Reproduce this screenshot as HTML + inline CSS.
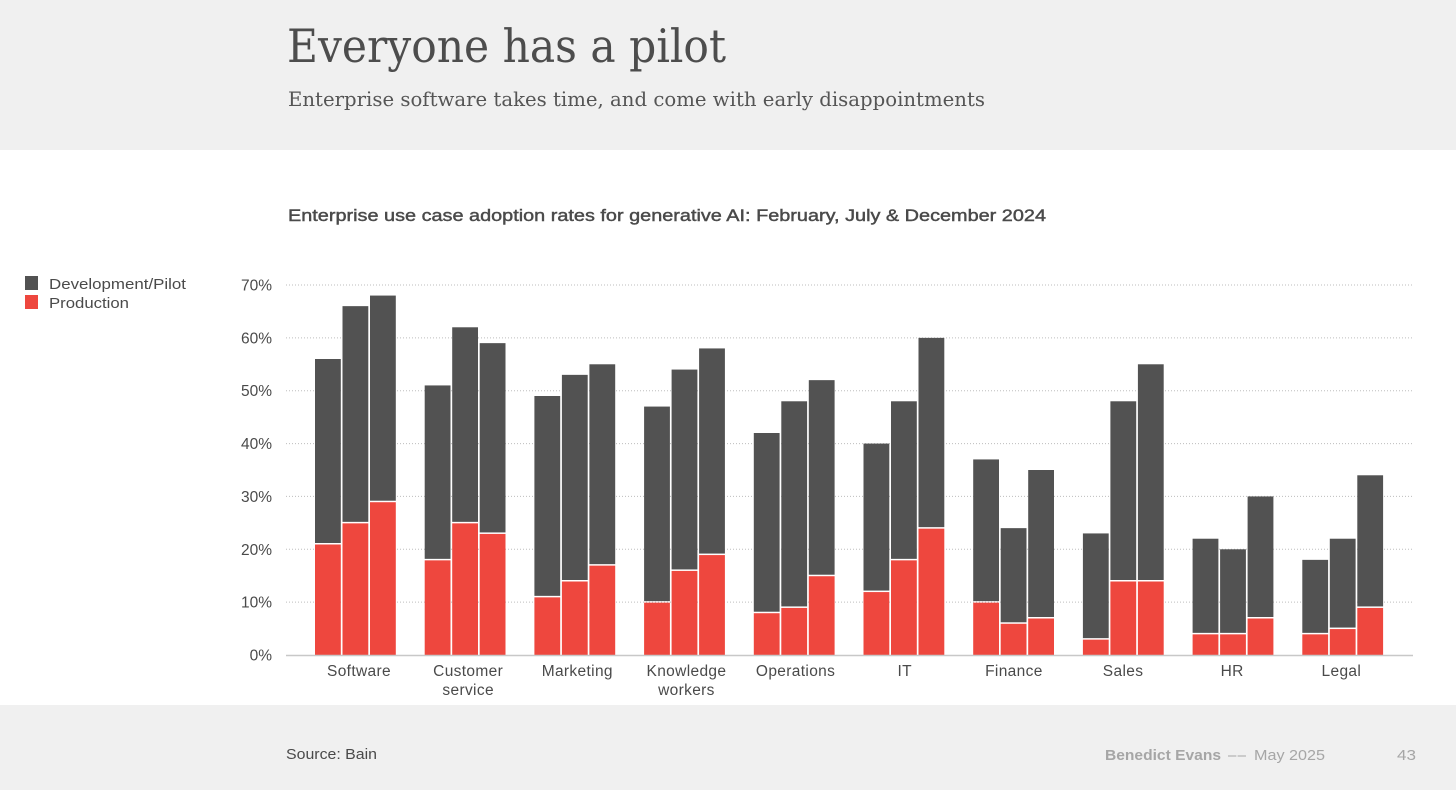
<!DOCTYPE html>
<html lang="en">
<head>
<meta charset="utf-8">
<title>Everyone has a pilot</title>
<style>
html,body{margin:0;padding:0;background:#fff;width:1456px;height:790px;overflow:hidden}
svg{display:block}
text{font-family:"Liberation Sans",Arial,sans-serif;fill:#4a4a4a}
.serif{font-family:"DejaVu Serif","Liberation Serif",serif}
</style>
</head>
<body>
<svg id="slide" width="1456" height="790" viewBox="0 0 1456 790" xmlns="http://www.w3.org/2000/svg">
  <rect x="0" y="0" width="1456" height="150" fill="#f0f0f0"/>
  <rect x="0" y="705" width="1456" height="85" fill="#f0f0f0"/>
  <text class="serif" x="287" y="62" font-size="46" textLength="439" lengthAdjust="spacingAndGlyphs" style="fill:#4d4d4d">Everyone has a pilot</text>
  <text class="serif" x="288" y="106" font-size="20" textLength="697" lengthAdjust="spacingAndGlyphs" style="fill:#555">Enterprise software takes time, and come with early disappointments</text>
  <text x="288" y="221" font-size="17" textLength="758" lengthAdjust="spacingAndGlyphs" style="fill:#4a4a4a;stroke:#4a4a4a;stroke-width:0.45px">Enterprise use case adoption rates for generative AI: February, July &amp; December 2024</text>
  <g>
    <rect x="25" y="276" width="13" height="14" fill="#525252"/>
    <text x="49" y="289" font-size="15" textLength="137" lengthAdjust="spacingAndGlyphs">Development/Pilot</text>
    <rect x="25" y="295" width="13" height="14" fill="#ee473e"/>
    <text x="49" y="308" font-size="15" textLength="80" lengthAdjust="spacingAndGlyphs">Production</text>
  </g>
  <g id="grid"></g>
  <g id="yticks"></g>
  <g id="bars"></g>
  <line x1="286" y1="655.5" x2="1413" y2="655.5" stroke="#c8c8c8" stroke-width="1.4"/>
  <g id="xlabels"></g>
  <text x="286" y="759" font-size="15" textLength="91" lengthAdjust="spacingAndGlyphs">Source: Bain</text>
  <text x="1105" y="760" font-size="15" font-weight="bold" textLength="116" lengthAdjust="spacingAndGlyphs" style="fill:#a6a6a6">Benedict Evans</text>
  <text x="1228" y="760" font-size="15" textLength="18" lengthAdjust="spacing" style="fill:#a6a6a6">––</text>
  <text x="1254" y="760" font-size="15" textLength="71" lengthAdjust="spacingAndGlyphs" style="fill:#a6a6a6">May 2025</text>
  <text x="1397" y="760" font-size="15" textLength="19" lengthAdjust="spacingAndGlyphs" style="fill:#a6a6a6">43</text>
</svg>
<script>
const categories = [["Software"],["Customer","service"],["Marketing"],["Knowledge","workers"],["Operations"],["IT"],["Finance"],["Sales"],["HR"],["Legal"]];
const productionValues = [[21,25,29],[18,25,23],[11,14,17],[10,16,19],[8,9,15],[12,18,24],[10,6,7],[3,14,14],[4,4,7],[4,5,9]];
const pilotValues = [[35,41,39],[33,37,36],[38,39,38],[37,38,39],[34,39,37],[28,30,36],[27,18,28],[20,34,41],[18,16,23],[14,17,25]];
const yTicks = [0,10,20,30,40,50,60,70];

const NS = 'http://www.w3.org/2000/svg';
function yScale(v){ return 655 - v * (370 / 70); }
function groupX(i){ return 315 + i * 109.7; }
function barX(i, j){ return groupX(i) + j * 27.5; }
function labelX(i){ return 359 + i * 109.15; }
const barWidth = 25.8;

const grid = document.getElementById('grid');
const yticksG = document.getElementById('yticks');
yTicks.forEach(function(t){
  if (t > 0) {
    const l = document.createElementNS(NS, 'line');
    
    
    l.setAttribute('x1', 286);
    l.setAttribute('x2', 1413);
    l.setAttribute('y1', yScale(t));
    l.setAttribute('y2', yScale(t));
    l.setAttribute('stroke', '#bdbdbd');
    l.setAttribute('stroke-width', '1');
    l.setAttribute('stroke-dasharray', '1 2');
    grid.appendChild(l);
  }
  const tx = document.createElementNS(NS, 'text');
  
  
  tx.setAttribute('x', 272);
  tx.setAttribute('y', yScale(t) + 5.5);
  tx.setAttribute('text-anchor', 'end');
  tx.setAttribute('font-size', '15.5');
  tx.textContent = t + '%';
  yticksG.appendChild(tx);
});

const barsG = document.getElementById('bars');
categories.forEach(function(cat, i){
  productionValues[i].forEach(function(p, j){
    const total = p + pilotValues[i][j];
    const dev = document.createElementNS(NS, 'rect');
    
    
    dev.setAttribute('x', barX(i, j));
    dev.setAttribute('y', yScale(total));
    dev.setAttribute('width', barWidth);
    dev.setAttribute('height', yScale(p) - yScale(total) - 1);
    dev.setAttribute('fill', '#525252');
    barsG.appendChild(dev);
    const prod = document.createElementNS(NS, 'rect');
    
    
    prod.setAttribute('x', barX(i, j));
    prod.setAttribute('y', yScale(p) + 0.5);
    prod.setAttribute('width', barWidth);
    prod.setAttribute('height', yScale(0) - yScale(p) - 0.5);
    prod.setAttribute('fill', '#ee473e');
    barsG.appendChild(prod);
  });
});

const xG = document.getElementById('xlabels');
categories.forEach(function(lines, i){
  lines.forEach(function(line, k){
    const tx = document.createElementNS(NS, 'text');
    
    
    tx.setAttribute('x', labelX(i));
    tx.setAttribute('y', 676 + k * 19);
    tx.setAttribute('text-anchor', 'middle');
    tx.setAttribute('font-size', '15.5');
    tx.setAttribute('letter-spacing', '0.35');
    tx.textContent = line;
    xG.appendChild(tx);
  });
});
</script>
</body>
</html>
